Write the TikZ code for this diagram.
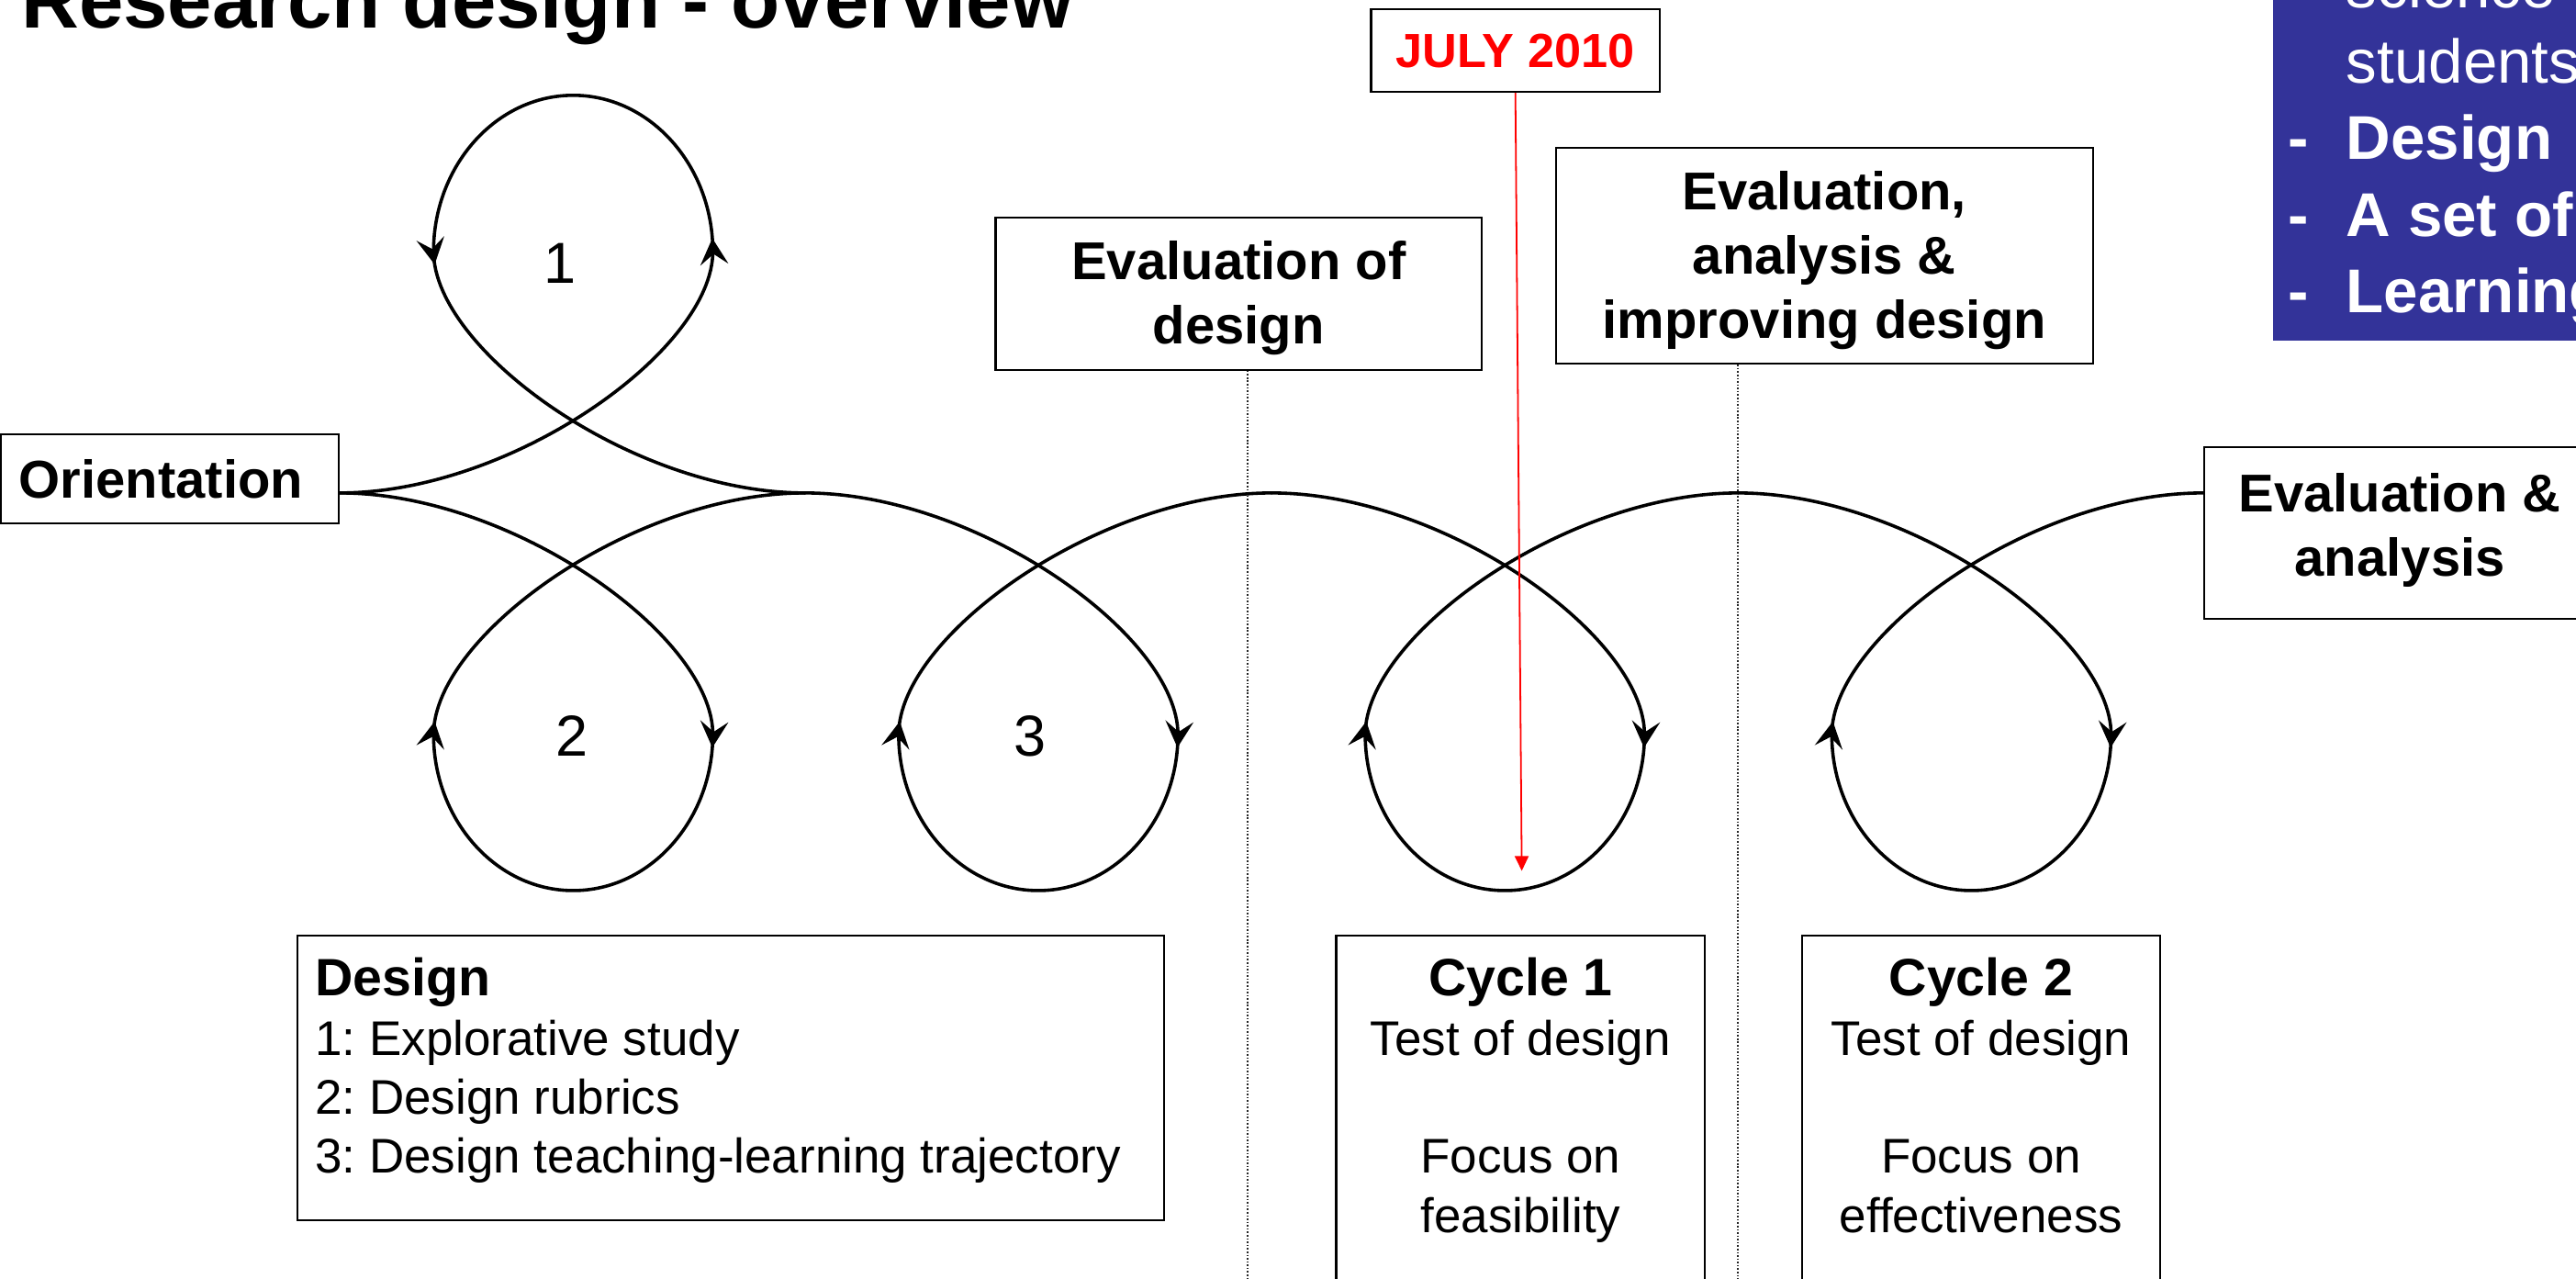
\documentclass[tikz,border=0pt]{standalone}
\usepackage{fontspec}
\setmainfont{Liberation Sans}
\usetikzlibrary{arrows.meta,decorations.markings}
\definecolor{boxblue}{RGB}{51,51,153}
\definecolor{julyred}{RGB}{255,0,0}
\frenchspacing
\tikzset{
  curve/.style={line width=1pt, line cap=round},
  arrowmark/.style={postaction={decorate,decoration={markings,
      mark=at position #1 with {\arrow{Stealth[length=8pt,width=8.5pt,inset=3.2pt]}}}}},
  box/.style={draw, line width=0.6pt, inner sep=0pt},
  bigbold/.style={inner sep=0pt, font=\fontsize{16.2}{19.5}\selectfont\bfseries, align=center},
  lnreg/.style={inner sep=0pt, font=\fontsize{14.8}{18}\selectfont},
  lnbold/.style={inner sep=0pt, font=\fontsize{16}{18}\selectfont\bfseries},
  infotxt/.style={inner sep=0pt, anchor=base west, text=white, font=\fontsize{18.8}{23}\selectfont},
  numlbl/.style={inner sep=0pt, font=\fontsize{17.6}{20}\selectfont},
  dotline/.style={line width=0.4pt, black!85, dash pattern=on 0.45pt off 0.55pt},
  redarrow/.style={julyred, line width=0.5pt, -{Triangle[length=4.5pt,width=4.2pt]}}
}
\newcommand\cycloop[4][]{%
  \begin{scope}[#1]
  \draw[curve] (#2) .. controls +(105,0) and +(0,-60) .. ++(227,147) coordinate (R#4);
  \draw[curve,arrowmark=4pt] (R#4) .. controls +(0,52) and +(47,0) .. ++(-85,95) coordinate (B#4)
     .. controls +(-47,0) and +(0,52) .. ++(-85,-95) coordinate (L#4);
  \draw[curve,arrowmark=4pt] (L#4) .. controls +(0,-60) and +(-105,0) .. (#3);
  \end{scope}}
\begin{document}
\begin{tikzpicture}[x=0.5pt,y=-0.5pt]
\useasboundingbox (0,0) rectangle (1568,778);
\clip (0,0) rectangle (1568,778);
\fill[white] (0,0) rectangle (1568,778);

% title
\node[inner sep=0pt, anchor=base west, font=\fontsize{24.3}{28}\selectfont\bfseries] (title) at (12.6,17.3) {Research design - overview};

% blue info box
\node[fill=boxblue, inner sep=0pt, minimum width=108.2pt, minimum height=113.55pt] (info) at (1491.8,93.55) {};
\node[infotxt] (i1) at (1427.8,4.7) {science};
\node[infotxt] (i2) at (1427.8,50.7) {students};
\node[infotxt, font=\fontsize{18.8}{23}\selectfont\bfseries] (i3) at (1427.8,97.2) {Design};
\node[infotxt, font=\fontsize{18.8}{23}\selectfont\bfseries] (i4) at (1427.8,143.8) {A set of};
\node[infotxt, font=\fontsize{18.8}{23}\selectfont\bfseries] (i5) at (1427.8,190) {Learning};
\node[infotxt, font=\fontsize{18.8}{23}\selectfont\bfseries] (d3) at (1392.2,97.2) {-};
\node[infotxt, font=\fontsize{18.8}{23}\selectfont\bfseries] (d4) at (1392.2,143.8) {-};
\node[infotxt, font=\fontsize{18.8}{23}\selectfont\bfseries] (d5) at (1392.2,190) {-};

% boxes
\node[box, minimum width=102.9pt, minimum height=27.1pt] (orient) at (103.4,291.6) {};
\node[bigbold] (orientlbl) at (98,291.6) {Orientation};
\node[box, minimum width=119.25pt, minimum height=52.15pt] (eva) at (1460.8,324.5) {};
\node[bigbold] (evalbl) at (1460.8,322.5) {Evaluation \&\\analysis};
\node[box, minimum width=148pt, minimum height=46.4pt] (evd) at (754,178.6) {};
\node[bigbold] (evdlbl) at (754,181.6) {Evaluation of\\design};
\node[box, minimum width=163.45pt, minimum height=65.75pt] (eai) at (1110.5,155.6) {};
\node[bigbold] (eailbl) at (1110.5,158.6) {Evaluation,\\analysis \&\\improving design};
\node[box, minimum width=87.85pt, minimum height=25.15pt, text=julyred, font=\fontsize{14.6}{17}\selectfont\bfseries] (july) at (922.4,30.75) {JULY 2010};

\node[box, minimum width=263.7pt, minimum height=86.6pt] (design) at (444.8,655.9) {};
\node[lnbold, anchor=base west] (dg0) at (191.5,606.2) {Design};
\node[lnreg, anchor=base west] (dg1) at (191.5,642.4) {1: Explorative study};
\node[lnreg, anchor=base west] (dg2) at (191.5,678.3) {2: Design rubrics};
\node[lnreg, anchor=base west] (dg3) at (191.5,714) {3: Design teaching-learning trajectory};

\node[box, minimum width=112.25pt, minimum height=110.35pt] (cyc1) at (925.6,679.65) {};
\node[lnbold, anchor=base] (ca0) at (925.6,606.2) {Cycle 1};
\node[lnreg, anchor=base] (ca1) at (925.6,642.4) {Test of design};
\node[lnreg, anchor=base] (ca2) at (925.6,714) {Focus on};
\node[lnreg, anchor=base] (ca3) at (925.6,749.9) {feasibility};

\node[box, minimum width=108.75pt, minimum height=110.35pt] (cyc2) at (1205.9,679.65) {};
\node[lnbold, anchor=base] (cb0) at (1205.9,606.2) {Cycle 2};
\node[lnreg, anchor=base] (cb1) at (1205.9,642.4) {Test of design};
\node[lnreg, anchor=base] (cb2) at (1205.9,714) {Focus on};
\node[lnreg, anchor=base] (cb3) at (1205.9,749.9) {effectiveness};

% dotted lines
\coordinate (dot1) at (759.4,778);
\coordinate (dot2) at (1057.7,778);
\draw[dotline] (evd.south -| dot1) -- (dot1);
\draw[dotline] (eai.south -| dot2) -- (dot2);

% loop numbers
\node[numlbl] (n1) at (341,160) {1};
\node[numlbl] (n2) at (348,448) {2};
\node[numlbl] (n3) at (627,448) {3};

% curve
\coordinate (base) at (0,300);
\coordinate (t0) at (orient.east |- base);
\coordinate (t1) at (490,300);
\coordinate (t2) at (774,300);
\coordinate (t3) at (1058,300);
\coordinate (t4) at (eva.west |- base);
\cycloop[yscale=-1]{t0}{t1}{a}
\cycloop{t0}{t1}{b}
\cycloop{t1}{t2}{c}
\cycloop{t2}{t3}{d}
\cycloop{t3}{t4}{e}

% red arrow
\coordinate (redtip) at (926.3,530);
\draw[redarrow] (july.south) -- (redtip);
\end{tikzpicture}
\end{document}
